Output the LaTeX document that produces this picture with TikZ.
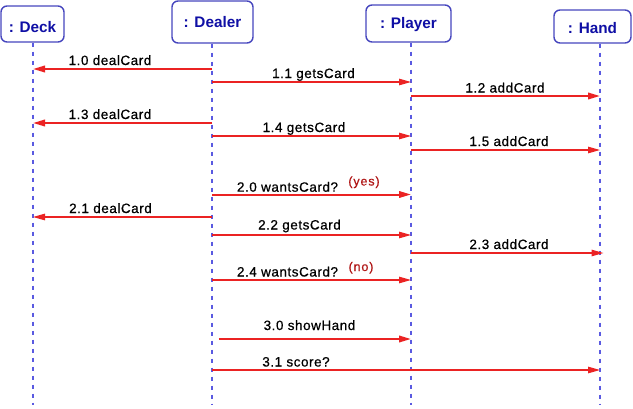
\documentclass[tikz,border=0pt]{standalone}
\usepackage{fontspec}
\setmainfont{Liberation Sans}
\newfontfamily\lblfont[LetterSpace=4,FakeBold=0.6]{Liberation Sans}
\newfontfamily\notefont[LetterSpace=7,FakeBold=0.6]{Liberation Sans}
\usetikzlibrary{arrows.meta}
\definecolor{boxblue}{RGB}{70,70,190}
\definecolor{txtblue}{RGB}{15,15,165}
\definecolor{lifeblue}{RGB}{90,90,225}
\definecolor{msgred}{RGB}{235,35,35}
\definecolor{notered}{RGB}{175,20,20}
\tikzset{
  obj/.style={draw=boxblue, line width=1.4pt, rounded corners=6pt, fill=white,
    text=txtblue, font=\fontsize{15.3}{18}\selectfont\bfseries, inner sep=0pt,
    text height=11pt, text depth=0pt},
  life/.style={draw=lifeblue, line width=1.6pt, dash pattern=on 4.5pt off 4.5pt},
  msg/.style={draw=msgred, line width=1.2pt, -{Triangle[length=12pt,width=6.5pt]}},
  thickmsg/.style={msg, line width=2pt},
  lbl/.style={font=\lblfont\fontsize{13.5}{16}\selectfont, anchor=base, inner sep=0pt},
  note/.style={font=\notefont\fontsize{12.5}{14}\selectfont, text=notered, anchor=base, inner sep=0pt},
}
\begin{document}
\begin{tikzpicture}[x=1pt,y=-1pt]
\useasboundingbox (0,0) rectangle (633,408);
% lifeline ends
\coordinate (deckL) at (33,405);
\coordinate (dealerL) at (212,405);
\coordinate (playerL) at (411,405);
\coordinate (handL) at (600,405);
% objects
\node[obj, minimum width=63pt, minimum height=36pt, text height=17pt] (deck) at (32.5,24) {: Deck};
\node[obj, minimum width=81pt, minimum height=42pt] (dealer) at (212.5,22) {: Dealer};
\node[obj, minimum width=85pt, minimum height=37pt, text height=9pt] (player) at (408.5,23.5) {: Player};
\node[obj, minimum width=77pt, minimum height=33pt, text height=13pt] (hand) at (592.5,26.5) {: Hand};
% lifelines
\draw[life] (deckL |- deck.south) -- (deckL);
\draw[life] (dealerL |- dealer.south) -- (dealerL);
\draw[life] (playerL |- player.south) -- (playerL);
\draw[life] (handL |- hand.south) -- (handL);
% message rows
\coordinate (m10) at (0,69);
\coordinate (m11) at (0,82);
\coordinate (m12) at (0,96);
\coordinate (m13) at (0,123);
\coordinate (m14) at (0,136);
\coordinate (m15) at (0,150);
\coordinate (m20) at (0,194.5);
\coordinate (m21) at (0,217);
\coordinate (m22) at (0,235);
\coordinate (m23) at (0,253);
\coordinate (m24) at (0,280);
\coordinate (m30) at (0,339);
\coordinate (m31) at (0,370);
% messages
\draw[thickmsg] (dealerL |- m10) -- (deckL |- m10);
\draw[msg] (dealerL |- m11) -- (playerL |- m11);
\draw[thickmsg] (playerL |- m12) -- (handL |- m12);
\draw[thickmsg] (dealerL |- m13) -- (deckL |- m13);
\draw[msg] (dealerL |- m14) -- (playerL |- m14);
\draw[msg] (playerL |- m15) -- (handL |- m15);
\draw[thickmsg] (dealerL |- m20) -- (playerL |- m20);
\draw[msg] (dealerL |- m21) -- (deckL |- m21);
\draw[msg] (dealerL |- m22) -- (playerL |- m22);
\draw[msg] (playerL |- m23) -- ([xshift=3.5pt]handL |- m23);
\draw[msg] (dealerL |- m24) -- (playerL |- m24);
\draw[thickmsg] ([xshift=6.5pt]dealerL |- m30) -- (playerL |- m30);
\draw[msg] (dealerL |- m31) -- (handL |- m31);
% labels
\node[lbl] (l10) at (110,65) {1.0 dealCard};
\node[lbl] (l11) at (313.5,78) {1.1 getsCard};
\node[lbl] (l12) at (505,92.5) {1.2 addCard};
\node[lbl] (l13) at (110,119) {1.3 dealCard};
\node[lbl] (l14) at (304,132) {1.4 getsCard};
\node[lbl] (l15) at (509,146) {1.5 addCard};
\node[lbl] (l20) at (287.5,191.7) {2.0 wantsCard?};
\node[note] (n20) at (364,185.5) {(yes)};
\node[lbl] (l21) at (110.5,213) {2.1 dealCard};
\node[lbl] (l22) at (299.5,229.5) {2.2 getsCard};
\node[lbl] (l23) at (509,249) {2.3 addCard};
\node[lbl] (l24) at (287.5,276.5) {2.4 wantsCard?};
\node[note] (n24) at (361,271) {(no)};
\node[lbl] (l30) at (309.5,330) {3.0 showHand};
\node[lbl] (l31) at (296,366.5) {3.1 score?};
\end{tikzpicture}
\end{document}
